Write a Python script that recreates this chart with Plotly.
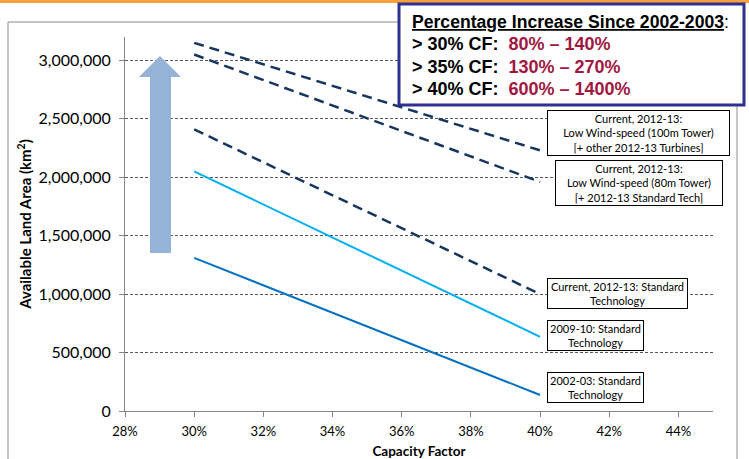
import plotly.graph_objects as go

# ---- data ----
capacity_factor = [0.30, 0.40]
lw_100m_2012 = [3150000, 2230000]
lw_80m_2012 = [3050000, 1960000]
std_2012 = [2410000, 1000000]
std_2009 = [2050000, 635000]
std_2002 = [1310000, 137000]

x_ticks = [0.28, 0.30, 0.32, 0.34, 0.36, 0.38, 0.40, 0.42, 0.44]
y_ticks = [0, 500000, 1000000, 1500000, 2000000, 2500000, 3000000]

box_title = "Percentage Increase Since 2002-2003"
box_rows = [("> 30% CF:", "80% \u2013 140%"),
            ("> 35% CF:", "130% \u2013 270%"),
            ("> 40% CF:", "600% \u2013 1400%")]

label_100m = "Current, 2012-13:<br>Low Wind-speed (100m Tower)<br>[+ other 2012-13 Turbines]"
label_80m = "Current, 2012-13:<br>Low Wind-speed (80m Tower)<br>[+ 2012-13 Standard Tech]"
label_std2012 = "Current, 2012-13: Standard<br>Technology"
label_std2009 = "2009-10: Standard<br>Technology"
label_std2002 = "2002-03: Standard<br>Technology"

# ---- layout geometry (pixels) ----
W, H = 749, 459
L, R, T, B = 125, 36, 37, 48
PW = W - L - R
PH = H - T - B


def px(x):
    return (x - L) / PW


def py(y):
    return (H - B - y) / PH


NAVY = "#17365D"
FONT = "Lato"

fig = go.Figure()

dash = "10px,6px"
fig.add_trace(go.Scatter(x=capacity_factor, y=lw_100m_2012, mode="lines",
                         line=dict(color=NAVY, width=2.5, dash=dash), showlegend=False))
fig.add_trace(go.Scatter(x=capacity_factor, y=lw_80m_2012, mode="lines",
                         line=dict(color=NAVY, width=2.5, dash=dash), showlegend=False))
fig.add_trace(go.Scatter(x=capacity_factor, y=std_2012, mode="lines",
                         line=dict(color=NAVY, width=2.5, dash=dash), showlegend=False))
fig.add_trace(go.Scatter(x=capacity_factor, y=std_2009, mode="lines",
                         line=dict(color="#00B0F0", width=2), showlegend=False))
fig.add_trace(go.Scatter(x=capacity_factor, y=std_2002, mode="lines",
                         line=dict(color="#0070C0", width=2), showlegend=False))

shapes = []
# outer frame
shapes.append(dict(type="rect", xref="paper", yref="paper",
                   x0=px(8), x1=px(737), y0=py(470), y1=py(22),
                   line=dict(color="#8C8C8C", width=1), layer="below"))
shapes.append(dict(type="line", xref="paper", yref="paper",
                   x0=px(737), x1=px(737), y0=py(470), y1=py(22),
                   line=dict(color="#C8C8C8", width=2)))
# orange top bar
shapes.append(dict(type="rect", xref="paper", yref="paper",
                   x0=px(-5), x1=px(760), y0=py(3), y1=py(-5),
                   line=dict(width=0), fillcolor="#F7A03C"))
# big arrow
ax = [150, 171, 171, 181, 160, 139, 150]
ay = [253, 253, 77, 77, 56, 77, 77]
path = "M " + " L ".join(f"{px(a):.5f},{py(b):.5f}" for a, b in zip(ax, ay)) + " Z"
shapes.append(dict(type="path", xref="paper", yref="paper", path=path,
                   fillcolor="#95B3D7", line=dict(width=0), layer="above"))
# top-right text box
shapes.append(dict(type="rect", xref="paper", yref="paper",
                   x0=px(399), x1=px(744), y0=py(105), y1=py(4),
                   fillcolor="white", line=dict(color="#2E3192", width=3), layer="above"))

annotations = []
tx = px(410)
annotations.append(dict(xref="paper", yref="paper", x=tx, y=py(22), xanchor="left", yanchor="middle",
                        showarrow=False,
                        text=f"<b><u>{box_title}</u></b>:",
                        font=dict(family="Liberation Sans", size=17.6, color="black")))
for i, (a, b) in enumerate(box_rows):
    annotations.append(dict(xref="paper", yref="paper", x=tx, y=py(44 + i * 22.5),
                            xanchor="left", yanchor="middle", showarrow=False,
                            text=f"<b>{a}  <span style='color:#A0173F'>{b}</span></b>",
                            font=dict(family="Liberation Sans", size=18, color="black")))

# series labels (boxed)
boxes = [
    (label_100m, 547, 110, 183),
    (label_80m, 555, 160, 168),
    (label_std2012, 547, 278, 141),
    (label_std2009, 547, 320, 97),
    (label_std2002, 547, 372, 97),
]
for text, bx, by, bw in boxes:
    annotations.append(dict(xref="paper", yref="paper", x=px(bx), y=py(by),
                            xanchor="left", yanchor="top", showarrow=False,
                            text=text, align="center",
                            width=bw - 4, borderpad=1,
                            bgcolor="white", bordercolor="black", borderwidth=1,
                            font=dict(family=FONT, size=11, color="black")))

fig.update_layout(
    width=W, height=H,
    margin=dict(l=L, r=R, t=T, b=B, autoexpand=False),
    paper_bgcolor="white", plot_bgcolor="white",
    shapes=shapes, annotations=annotations,
    font=dict(family=FONT, color="black"),
    xaxis=dict(range=[0.28, 0.45], tickvals=x_ticks, tickformat=".0%",
               automargin=False,
               showgrid=False, zeroline=False,
               showline=True, linecolor="#868686", linewidth=1,
               ticks="outside", ticklen=5, tickcolor="#868686",
               ticklabelstandoff=3,
               tickfont=dict(family=FONT, size=13, color="black"),
               title=dict(text="<b>Capacity Factor</b>", standoff=9,
                          font=dict(family=FONT, size=13.5, color="black"))),
    yaxis=dict(range=[0, 3200000], tickvals=y_ticks, tickformat=",d",
               automargin=False,
               showgrid=True, gridcolor="#595959", griddash="3px,2px", gridwidth=1,
               zeroline=False,
               showline=True, linecolor="#868686", linewidth=1,
               ticks="outside", ticklen=5, tickcolor="#868686",
               ticklabelstandoff=5,
               tickfont=dict(family=FONT, size=16, color="black"),
               title=dict(text="<b>Available Land Area (km<sup>2</sup>)</b>", standoff=3,
                          font=dict(family=FONT, size=15, color="black"))),
)

fig.write_html("out.html",
               config={"displayModeBar": False, "staticPlot": True},
               post_script="document.body.style.margin='0';document.body.style.overflow='hidden';")
